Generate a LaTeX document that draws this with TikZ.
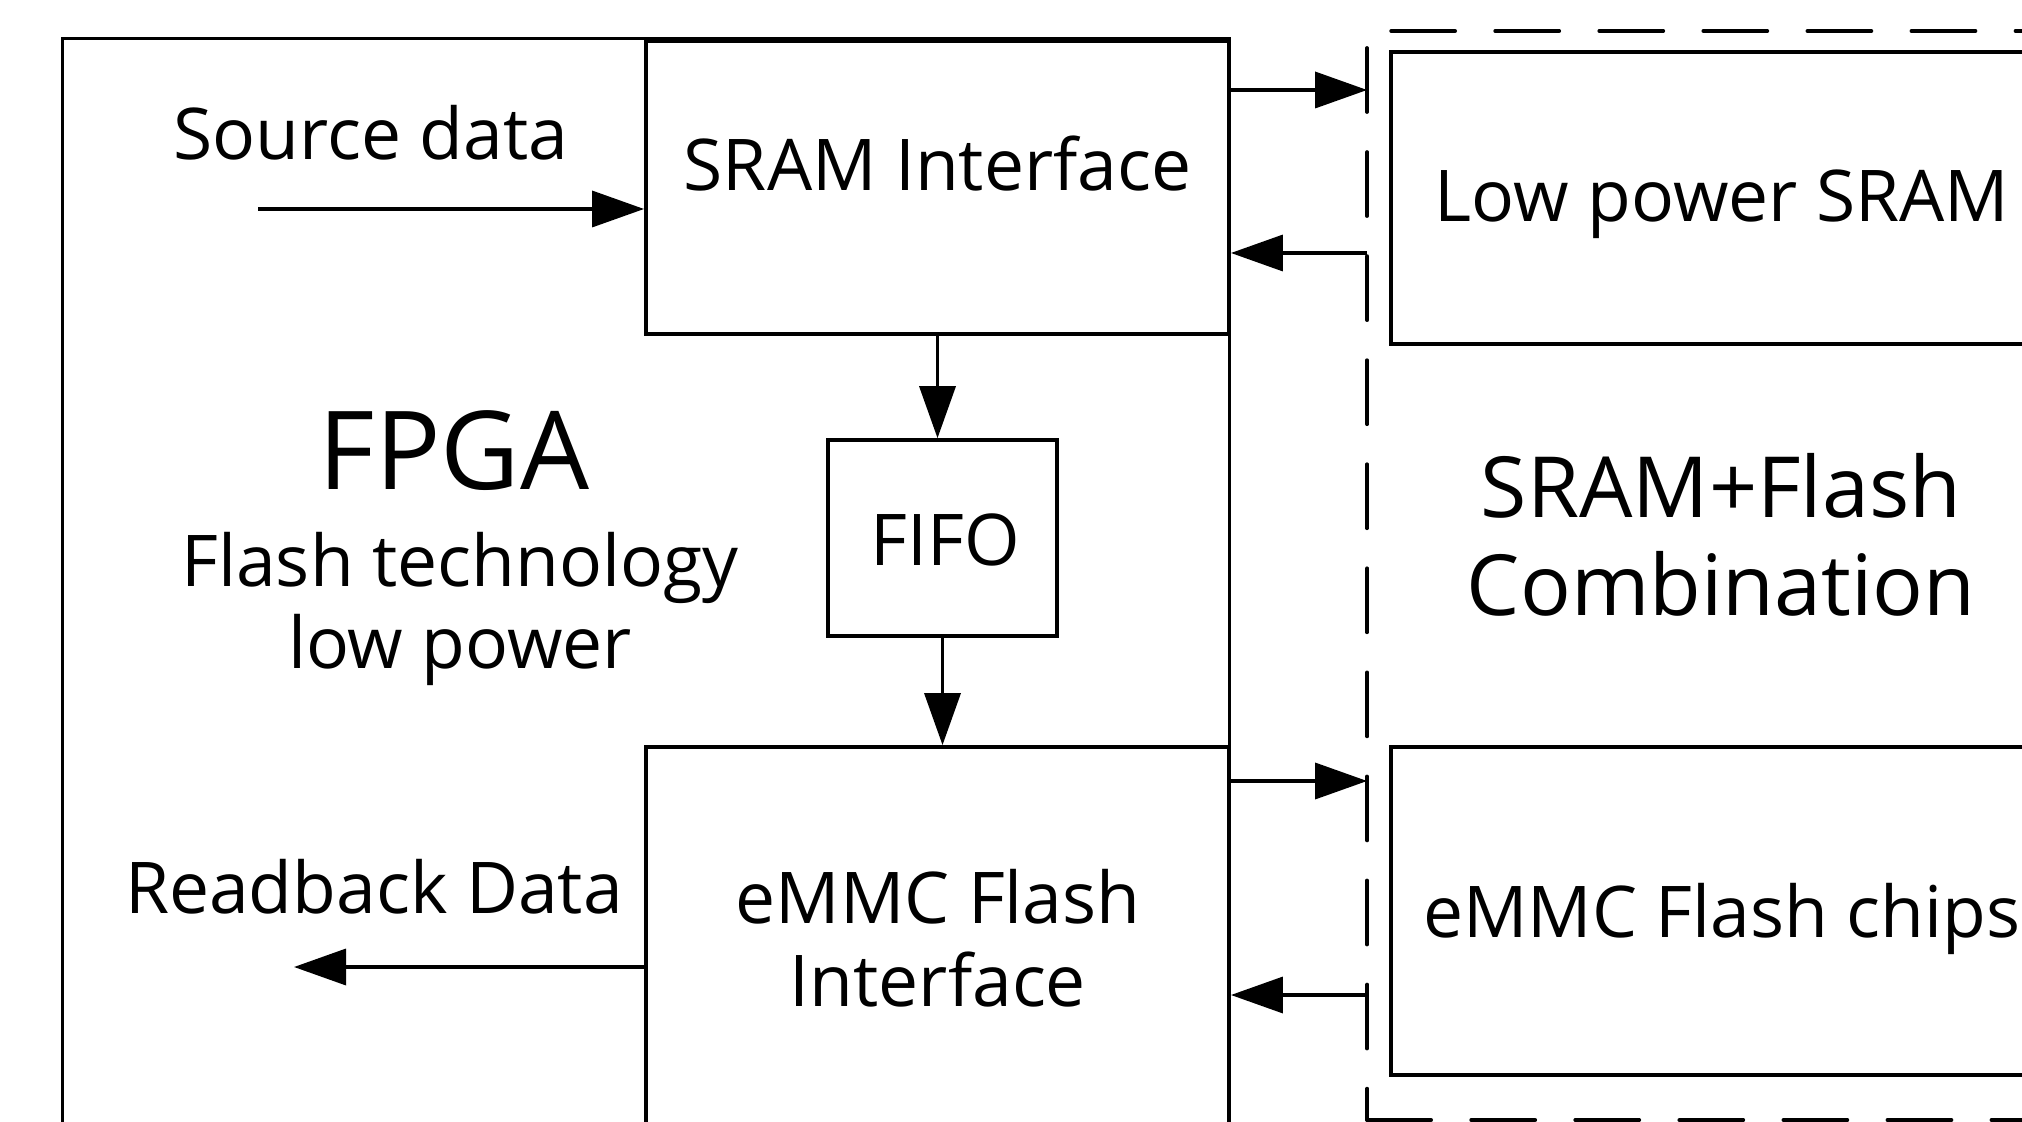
\documentclass[tikz,border=0pt]{standalone}
\usepackage{fontspec}
\setmainfont{Open Sans}
\usetikzlibrary{arrows.meta,positioning}

\begin{document}
\begin{tikzpicture}[
  x=0.01cm, y=-0.01cm,
  font=\fontsize{20.3pt}{23.5pt}\selectfont,
  blk/.style={draw, line width=1pt, inner sep=0pt},
  lbl/.style={inner sep=0pt},
  pf/.style={-{Triangle[length=5.2mm, width=3.6mm]}, line width=1pt},
  dl/.style={line width=1.05pt, line cap=round, dash pattern=on 6.4mm off 4.0mm}
]
\useasboundingbox (0,0) rectangle (2022,1122);
\clip (0,0) rectangle (2022,1122);

% FPGA
\node[blk, minimum width=11.66cm, minimum height=12.2cm] (fpga) at (646,649) {};
\node[lbl, anchor=base, font=\fontsize{31pt}{36pt}\selectfont] (fpgatxt) at (454,490) {FPGA};
\node[lbl, align=center] (fpgasub) at (460,609) {Flash technology\\low power};

% Schnittstellen
\node[blk, minimum width=5.83cm, minimum height=2.93cm] (sramif) at (937.5,187.5) {};
\node[lbl, anchor=base] (sramiftxt) at (937.5,191) {SRAM Interface};
\node[blk, minimum width=2.29cm, minimum height=1.96cm] (fifo) at (942.5,538) {};
\node[lbl, anchor=base] (fifotxt) at (945,565) {FIFO};
\node[blk, minimum width=5.83cm, minimum height=5.1cm] (emmcif) at (937.5,1002) {};
\node[lbl, align=center] (emmciftxt) at (938,938) {eMMC Flash\\Interface};

\draw[pf] (sramif.south) -- (sramif.south |- fifo.north);
\draw[pf] (fifo.south) -- (fifo.south |- emmcif.north);

% Daten ein/aus
\node[lbl, anchor=base] (srctxt) at (371,160) {Source data};
\coordinate (srcin) at (258,209);
\draw[pf] (srcin) -- (sramif.west |- srcin);
\node[lbl, anchor=base] (rbtxt) at (374,913) {Readback Data};
\coordinate (rbout) at (294,967);
\draw[pf] (emmcif.west |- rbout) -- (rbout);

% SRAM+Flash Kombination
\node[lbl, minimum width=7.1cm, minimum height=10.87cm] (combo) at (1723,575.5) {};
\draw[dl, dash phase=8.7mm] (combo.north west) -- (combo.south west);
\draw[dl, dash phase=8.0mm] (combo.north west) -- (combo.north east);
\draw[dl] (combo.south west) -- (combo.south east);
\node[lbl, align=center, font=\fontsize{24pt}{27.9pt}\selectfont] (combotxt) at (1721,535) {SRAM+Flash\\Combination};

\node[blk, minimum width=6.62cm, minimum height=2.92cm] (lpsram) at (1722,198) {};
\node[lbl, anchor=base] (lpsramtxt) at (1722,222) {Low power SRAM};
\node[blk, minimum width=6.62cm, minimum height=3.28cm] (emmcchip) at (1722,911) {};
\node[lbl, anchor=base] (emmcchiptxt) at (1722,937) {eMMC Flash chips};

% Busse
\draw[pf] (sramif.east |- 0,90) -- (combo.west |- 0,90);
\draw[pf] (combo.west |- 0,253) -- (sramif.east |- 0,253);
\draw[pf] (emmcif.east |- 0,781) -- (combo.west |- 0,781);
\draw[pf] (combo.west |- 0,995) -- (emmcif.east |- 0,995);

\end{tikzpicture}
\end{document}
